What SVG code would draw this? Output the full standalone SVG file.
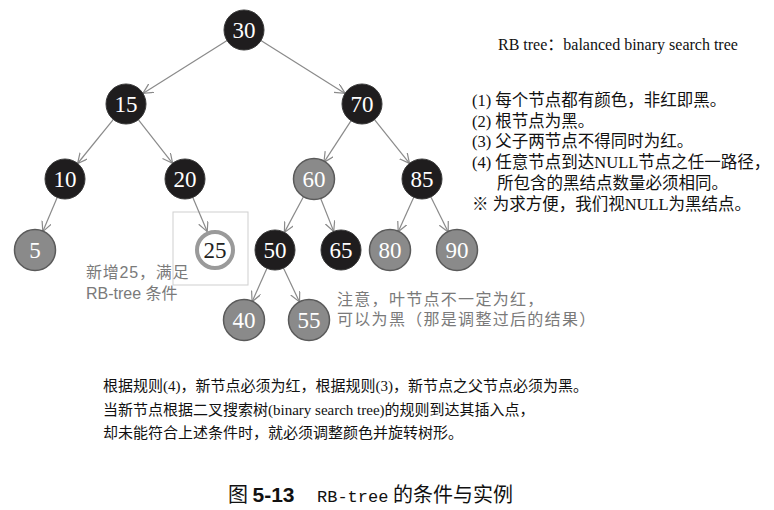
<svg xmlns="http://www.w3.org/2000/svg" width="774" height="510" viewBox="0 0 774 510">
<defs>
<style>
.blk circle{fill:#1f1d1e;stroke:#3a3a3a;stroke-width:1}
.red circle{fill:#8a8a8a;stroke:#5a5a5a;stroke-width:1.5}
.nt{font-family:"Liberation Serif","Times New Roman",serif;font-size:23px;fill:#fff;text-anchor:middle}
.edge{stroke:#8a8a8a;stroke-width:1.2;fill:none;marker-end:url(#arr)}
.rule{font-family:"Liberation Serif","Noto Sans CJK SC",serif;font-size:16.5px;fill:#111}
.note{font-family:"Liberation Sans","Noto Sans CJK SC",sans-serif;font-size:16px;fill:#7a7a7a}
.body{font-family:"Liberation Serif","Noto Sans CJK SC",serif;font-size:15px;fill:#111}
</style>
<marker id="arr" markerUnits="userSpaceOnUse" markerWidth="12" markerHeight="12" refX="10" refY="5" orient="auto">
<path d="M0,0 L10,5 L0,10" fill="none" stroke="#8a8a8a" stroke-width="1.2"/>
</marker>
</defs>
<rect width="774" height="510" fill="#fff"/>
<rect x="173" y="212" width="75" height="73" fill="none" stroke="#cfcfcf" stroke-width="1"/>
<g id="connectors">
<line class="edge" x1="227.9" y1="40.1" x2="142.9" y2="93.4"/>
<line class="edge" x1="260.1" y1="40.1" x2="345.1" y2="93.4"/>
<line class="edge" x1="114" y1="118.7" x2="77.6" y2="163.5"/>
<line class="edge" x1="137.7" y1="118.9" x2="172.6" y2="163.3"/>
<line class="edge" x1="351.6" y1="119.9" x2="323.9" y2="162.3"/>
<line class="edge" x1="373.9" y1="118.8" x2="409.5" y2="163.4"/>
<line class="edge" x1="57.6" y1="196.5" x2="42.8" y2="231.6"/>
<line class="edge" x1="192.4" y1="196.5" x2="207.2" y2="231.6"/>
<line class="edge" x1="304" y1="195.8" x2="284.4" y2="232.4"/>
<line class="edge" x1="320" y1="196.7" x2="333.7" y2="231.4"/>
<line class="edge" x1="414.2" y1="196.3" x2="398.2" y2="231.8"/>
<line class="edge" x1="430.4" y1="196" x2="448.2" y2="232.1"/>
<line class="edge" x1="267.3" y1="267.4" x2="252.1" y2="301.7"/>
<line class="edge" x1="283.1" y1="267.2" x2="299.5" y2="301.9"/>
</g>
<g id="n30" class="blk"><circle cx="244" cy="30" r="20"/><text class="nt" x="244" y="38">30</text></g>
<g id="n15" class="blk"><circle cx="126" cy="104" r="20"/><text class="nt" x="126" y="112">15</text></g>
<g id="n70" class="blk"><circle cx="362" cy="104" r="20"/><text class="nt" x="362" y="112">70</text></g>
<g id="n10" class="blk"><circle cx="65" cy="179" r="20"/><text class="nt" x="65" y="187">10</text></g>
<g id="n20" class="blk"><circle cx="185" cy="179" r="20"/><text class="nt" x="185" y="187">20</text></g>
<g id="n60" class="red"><circle cx="314" cy="179" r="20.5"/><text class="nt" x="314" y="187">60</text></g>
<g id="n85" class="blk"><circle cx="422" cy="179" r="20"/><text class="nt" x="422" y="187">85</text></g>
<g id="n5" class="red"><circle cx="35" cy="250" r="20.5"/><text class="nt" x="35" y="258">5</text></g>
<g id="n25"><circle cx="215" cy="250" r="18" fill="#fff" stroke="#9a9a9a" stroke-width="4"/><text class="nt" x="215" y="258" style="fill:#222">25</text></g>
<g id="n50" class="blk"><circle cx="275" cy="250" r="20"/><text class="nt" x="275" y="258">50</text></g>
<g id="n65" class="blk"><circle cx="341" cy="250" r="20"/><text class="nt" x="341" y="258">65</text></g>
<g id="n80" class="red"><circle cx="390" cy="250" r="20.5"/><text class="nt" x="390" y="258">80</text></g>
<g id="n90" class="red"><circle cx="457" cy="250" r="20.5"/><text class="nt" x="457" y="258">90</text></g>
<g id="n40" class="red"><circle cx="244" cy="320" r="20.5"/><text class="nt" x="244" y="328">40</text></g>
<g id="n55" class="red"><circle cx="309" cy="320" r="20.5"/><text class="nt" x="309" y="328">55</text></g>
<text class="note" x="86" y="278" style="letter-spacing:0.8px">新增25，满足</text>
<text class="note" x="86" y="299">RB-tree 条件</text>
<text class="note" x="337" y="305" style="letter-spacing:1.3px">注意，叶节点不一定为红，</text>
<text class="note" x="337" y="325" style="letter-spacing:1.3px">可以为黑（那是调整过后的结果）</text>
<text class="rule" x="498" y="50" style="font-size:16px">RB tree：balanced binary search tree</text>
<text class="rule" x="472" y="106">(1) 每个节点都有颜色，非红即黑。</text>
<text class="rule" x="472" y="127">(2) 根节点为黑。</text>
<text class="rule" x="472" y="147">(3) 父子两节点不得同时为红。</text>
<text class="rule" x="472" y="168">(4) 任意节点到达NULL节点之任一路径，</text>
<text class="rule" x="497" y="189">所包含的黑结点数量必须相同。</text>
<text class="rule" x="472" y="210">※ 为求方便，我们视NULL为黑结点。</text>
<text class="body" x="103" y="391">根据规则(4)，新节点必须为红，根据规则(3)，新节点之父节点必须为黑。</text>
<text class="body" x="103" y="415">当新节点根据二叉搜索树(binary search tree)的规则到达其插入点，</text>
<text class="body" x="103" y="438">却未能符合上述条件时，就必须调整颜色并旋转树形。</text>
<text x="228" y="502" style="font-family:'Noto Sans CJK SC',sans-serif;font-size:20px;fill:#111">图 <tspan style="font-family:'Liberation Sans',sans-serif;font-weight:bold;font-size:21px">5-13</tspan><tspan x="317" style="font-family:'Liberation Mono',monospace;font-size:17px">RB-tree</tspan><tspan x="393">的条件与实例</tspan></text>
</svg>
